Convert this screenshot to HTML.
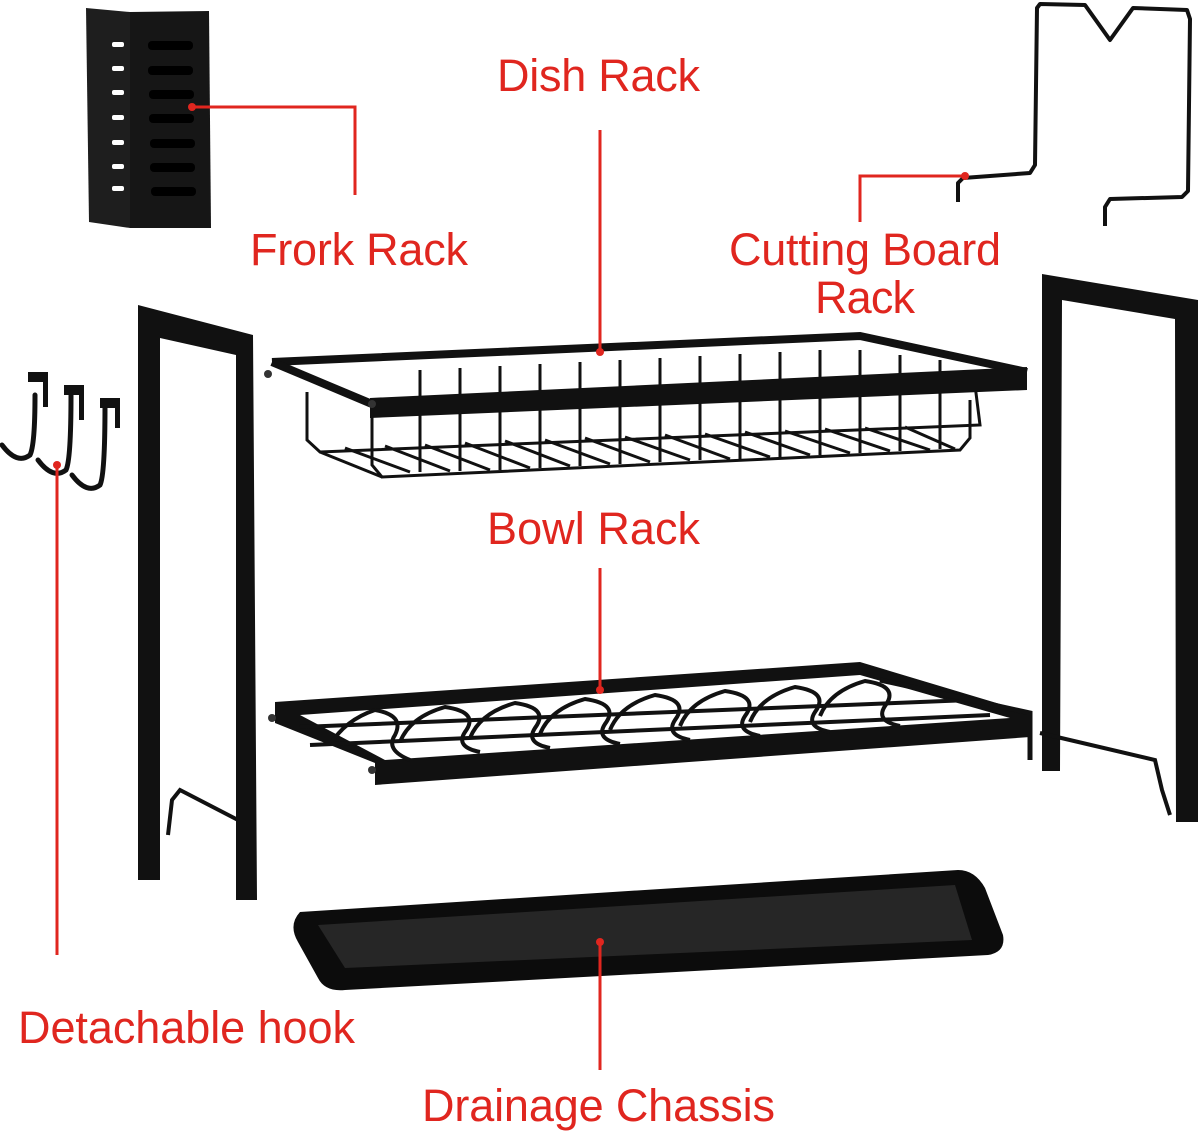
<!DOCTYPE html>
<html><head><meta charset="utf-8"><style>
html,body{margin:0;padding:0;background:#fff;}
svg{display:block}
text{font-family:"Liberation Sans",sans-serif;fill:#e0261f;font-size:45px}
</style></head><body>
<svg width="1200" height="1133" viewBox="0 0 1200 1133" xmlns="http://www.w3.org/2000/svg">
<!-- fork rack box -->
<polygon points="86,8 130,12 130,228 89,222" fill="#1e1e1e"/>
<polygon points="130,12 209,11 211,228 130,228" fill="#161616"/>
<g fill="#fff">
<rect x="112" y="42" width="12" height="5" rx="2"/>
<rect x="112" y="66" width="12" height="5" rx="2"/>
<rect x="112" y="90" width="12" height="5" rx="2"/>
<rect x="112" y="115" width="12" height="5" rx="2"/>
<rect x="112" y="140" width="12" height="5" rx="2"/>
<rect x="112" y="164" width="12" height="5" rx="2"/>
<rect x="112" y="186" width="12" height="5" rx="2"/>
</g>
<g fill="#000">
<rect x="148" y="41" width="45" height="9" rx="4"/><rect x="148" y="66" width="45" height="9" rx="4"/>
<rect x="149" y="90" width="45" height="9" rx="4"/><rect x="149" y="114" width="45" height="9" rx="4"/>
<rect x="150" y="139" width="45" height="9" rx="4"/><rect x="150" y="163" width="45" height="9" rx="4"/>
<rect x="151" y="187" width="45" height="9" rx="4"/>
</g>
<!-- cutting board rack -->
<polyline points="958,202 958,183 963,178 1030,173 1035,165 1037,8 1040,4 1085,5 1110,40 1133,8 1187,10 1190,19 1188,191 1182,197 1110,199 1105,207 1105,226" fill="none" stroke="#111" stroke-width="4" stroke-linejoin="round"/>
<!-- left frame -->
<polygon points="138,305 253,335 257,900 236,900 236,355 160,338 160,880 138,880" fill="#111"/>
<polyline points="238,820 180,790 172,800 168,835" fill="none" stroke="#111" stroke-width="4"/>
<!-- right frame -->
<polygon points="1042,274 1198,300 1198,822 1176,822 1175,319 1062,300 1060,771 1042,771" fill="#111"/>
<polyline points="1040,733 1155,760 1162,790 1170,815" fill="none" stroke="#111" stroke-width="4"/>
<!-- hooks -->
<g fill="none" stroke="#111" stroke-width="5" stroke-linecap="round">
<path d="M2,445 q15,20 28,10 q5,-10 5,-60"/><path d="M38,460 q15,20 28,10 q5,-10 5,-75"/><path d="M72,475 q15,20 28,10 q5,-10 5,-80"/>
</g>
<g fill="#111"><rect x="28" y="372" width="20" height="10"/><rect x="64" y="385" width="20" height="10"/><rect x="100" y="398" width="20" height="10"/>
<rect x="43" y="372" width="5" height="35"/><rect x="79" y="385" width="5" height="35"/><rect x="115" y="398" width="5" height="30"/></g>
<!-- dish rack basket -->
<g fill="none" stroke="#111" stroke-width="3">
<polyline points="307,392 307,440 320,452 980,425 975,385"/>
<polyline points="372,410 372,465 382,477 960,450 970,438 970,400"/>
<path d="M320,452 L382,477"/>
</g>
<g stroke="#111" stroke-width="3">
<line x1="420" y1="370" x2="420" y2="472"/><line x1="460" y1="368" x2="460" y2="471"/><line x1="500" y1="366" x2="500" y2="470"/>
<line x1="540" y1="364" x2="540" y2="468"/><line x1="580" y1="362" x2="580" y2="466"/><line x1="620" y1="360" x2="620" y2="464"/>
<line x1="660" y1="358" x2="660" y2="462"/><line x1="700" y1="356" x2="700" y2="460"/><line x1="740" y1="354" x2="740" y2="459"/>
<line x1="780" y1="352" x2="780" y2="457"/><line x1="820" y1="350" x2="820" y2="455"/><line x1="860" y1="350" x2="860" y2="453"/>
<line x1="900" y1="355" x2="900" y2="451"/><line x1="940" y1="360" x2="940" y2="449"/>
<line x1="345" y1="448" x2="410" y2="472"/><line x1="385" y1="446" x2="450" y2="471"/><line x1="425" y1="445" x2="490" y2="470"/>
<line x1="465" y1="443" x2="530" y2="468"/><line x1="505" y1="441" x2="570" y2="466"/><line x1="545" y1="440" x2="610" y2="464"/>
<line x1="585" y1="438" x2="650" y2="462"/><line x1="625" y1="437" x2="690" y2="460"/><line x1="665" y1="435" x2="730" y2="459"/>
<line x1="705" y1="434" x2="770" y2="457"/><line x1="745" y1="432" x2="810" y2="455"/><line x1="785" y1="431" x2="850" y2="453"/>
<line x1="825" y1="429" x2="890" y2="451"/><line x1="865" y1="428" x2="930" y2="450"/><line x1="905" y1="427" x2="955" y2="449"/>
</g>
<!-- dish rack top frame -->
<polyline points="272,362 860,336 1027,372" fill="none" stroke="#111" stroke-width="8"/>
<line x1="272" y1="362" x2="372" y2="404" stroke="#111" stroke-width="8"/>
<polygon points="370,398 1027,367 1027,390 370,418" fill="#111"/>
<circle cx="268" cy="374" r="4" fill="#333"/><circle cx="372" cy="404" r="4" fill="#333"/>
<!-- bowl rack -->
<polygon points="275,702 860,662 1030,713 1030,737 375,785 375,763 275,723" fill="#111"/>
<polygon points="300,715 860,675 1010,718 385,760" fill="#fff"/>
<g fill="none" stroke="#111" stroke-width="4">
<path d="M330,745 q15,-25 45,-35 q30,5 20,25 q-10,15 15,25"/>
<path d="M400,742 q10,-25 45,-35 q35,5 20,25 q-10,15 15,20"/>
<path d="M470,738 q10,-25 45,-35 q35,5 20,25 q-10,15 15,20"/>
<path d="M540,734 q10,-25 45,-35 q35,5 20,25 q-10,15 15,20"/>
<path d="M610,730 q10,-25 45,-35 q35,5 20,25 q-10,15 15,20"/>
<path d="M680,726 q10,-25 45,-35 q35,5 20,25 q-10,15 15,20"/>
<path d="M750,722 q10,-25 45,-35 q35,5 20,25 q-10,15 15,20"/>
<path d="M820,716 q10,-25 45,-35 q35,5 20,25 q-10,15 15,20"/>
<line x1="310" y1="745" x2="990" y2="715"/>
<line x1="300" y1="727" x2="970" y2="700"/>
</g>
<polyline points="880,680 1030,713 1030,760" fill="none" stroke="#111" stroke-width="5"/>
<circle cx="272" cy="718" r="4" fill="#333"/><circle cx="372" cy="770" r="4" fill="#333"/>
<!-- tray -->
<path d="M300,912 Q288,925 298,942 L318,978 Q325,992 345,990 L988,955 Q1006,952 1003,935 L985,888 Q975,870 958,870 Z" fill="#0c0c0c"/>
<path d="M318,925 L345,968 L972,940 L955,885 Z" fill="#262626"/>
<!-- connector lines -->
<g stroke="#e0261f" stroke-width="3" fill="none">
<polyline points="192,107 355,107 355,195"/>
<line x1="600" y1="130" x2="600" y2="352"/>
<polyline points="860,222 860,176 965,176"/>
<line x1="600" y1="568" x2="600" y2="690"/>
<line x1="57" y1="465" x2="57" y2="955"/>
<line x1="600" y1="942" x2="600" y2="1070"/>
</g>
<g fill="#e0261f">
<circle cx="192" cy="107" r="4"/><circle cx="600" cy="352" r="4"/><circle cx="965" cy="176" r="4"/>
<circle cx="600" cy="690" r="4"/><circle cx="57" cy="465" r="4"/><circle cx="600" cy="942" r="4"/>
</g>
<!-- labels -->
<text x="497" y="91" textLength="203">Dish Rack</text>
<text x="250" y="265" textLength="218">Frork Rack</text>
<text x="729" y="265" textLength="272">Cutting Board</text>
<text x="815" y="313" textLength="100">Rack</text>
<text x="487" y="544" textLength="213">Bowl Rack</text>
<text x="18" y="1043" textLength="337">Detachable hook</text>
<text x="422" y="1121" textLength="353">Drainage Chassis</text>
</svg>
</body></html>
